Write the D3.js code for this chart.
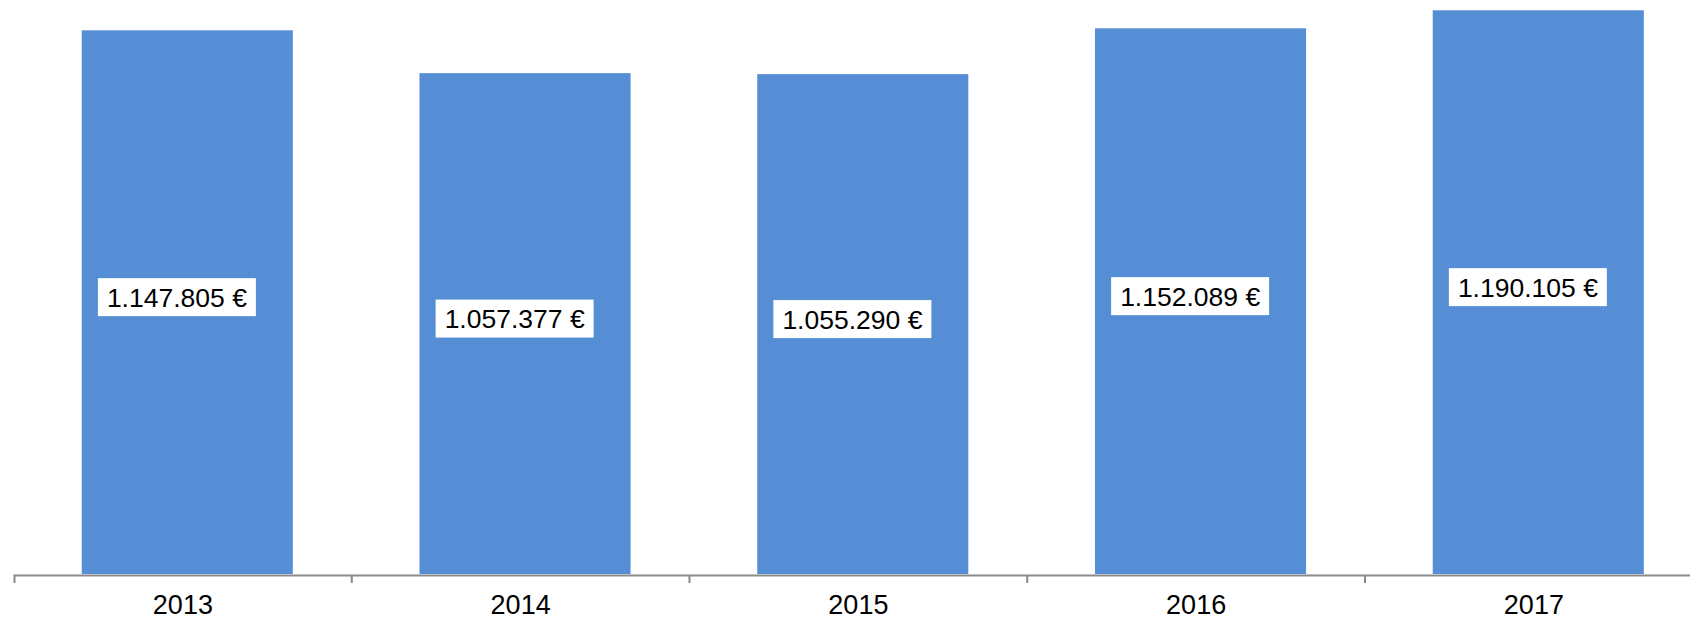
<!DOCTYPE html>
<html>
<head>
<meta charset="utf-8">
<script src="https://cdn.jsdelivr.net/npm/d3@7"></script>
<style>
  body { margin: 0; background: #fff; }
  text { font-family: "Liberation Sans", Arial, sans-serif; }
</style>
</head>
<body>
<div id="chart"></div>
<script>
// data
var years = ["2013", "2014", "2015", "2016", "2017"];
var values = [1147805, 1057377, 1055290, 1152089, 1190105];
var labels = ["1.147.805 €", "1.057.377 €", "1.055.290 €", "1.152.089 €", "1.190.105 €"];

var W = 1690, H = 620;
var baseY = 574;

var svg = d3.select("#chart")
  .append("svg")
  .attr("width", W)
  .attr("height", H);

// axis scale - ticks sit on the band edges
var xAxisScale = d3.scaleBand()
  .domain(years)
  .range([14, 1702.75])
  .padding(0);

// bars are slightly shifted right inside the band
var x = d3.scaleBand()
  .domain(years)
  .range([18.4, 1707.15])
  .paddingInner(0.375)
  .paddingOuter(0.1875);

var y = d3.scaleLinear()
  .domain([0, 1200000])
  .range([baseY, 5.6]);

// bars
svg.selectAll(".bar")
  .data(values)
  .enter()
  .append("rect")
  .attr("class", "bar")
  .attr("x", function(d, i) { return x(years[i]); })
  .attr("y", function(d) { return y(d); })
  .attr("width", x.bandwidth())
  .attr("height", function(d) { return baseY - y(d); })
  .style("fill", "#558ed5");

// x axis
var axis = svg.append("g")
  .attr("transform", "translate(0," + (baseY + 1) + ")")
  .call(d3.axisBottom(xAxisScale).tickSize(0).tickSizeOuter(8));

axis.select(".domain")
  .attr("stroke", "#898989")
  .attr("stroke-width", 2);

axis.selectAll(".tick text")
  .attr("y", 39)
  .attr("dy", 0)
  .style("font-size", "27px")
  .style("font-family", "'Liberation Sans', Arial, sans-serif")
  .style("fill", "#000");

// inner tick marks on band edges
axis.selectAll(".edge")
  .data(years.slice(1))
  .enter()
  .append("line")
  .attr("class", "edge")
  .attr("x1", function(d) { return xAxisScale(d); })
  .attr("x2", function(d) { return xAxisScale(d); })
  .attr("y1", 0)
  .attr("y2", 8)
  .attr("stroke", "#898989")
  .attr("stroke-width", 2);

// data labels with white boxes
var lab = svg.selectAll(".lab")
  .data(values)
  .enter()
  .append("g")
  .attr("class", "lab")
  .attr("transform", function(d, i) {
    var cx = xAxisScale(years[i]) + xAxisScale.bandwidth() / 2 - 6;
    var cy = (y(d) + baseY) / 2 - 5;
    return "translate(" + cx + "," + cy + ")";
  });

lab.append("rect")
  .attr("x", -79)
  .attr("y", -19)
  .attr("width", 158)
  .attr("height", 38)
  .style("fill", "#fff");

lab.append("text")
  .attr("text-anchor", "middle")
  .attr("y", 9.5)
  .style("font-size", "26.5px")
  .style("fill", "#000")
  .text(function(d, i) { return labels[i]; });
</script>
</body>
</html>
